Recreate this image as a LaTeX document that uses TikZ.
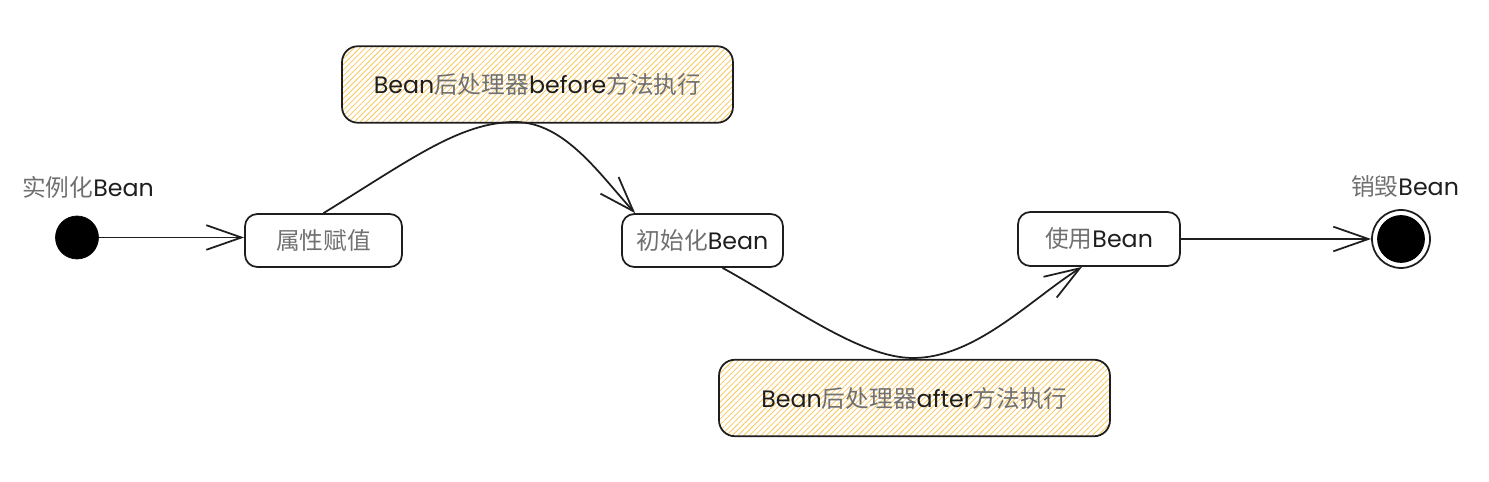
\documentclass[tikz,border=0pt]{standalone}
\usepackage{fontspec}
\setmainfont{Poppins}
\newfontfamily\cjk{Noto Sans CJK SC}
\usetikzlibrary{arrows.meta,patterns.meta}
\definecolor{zhgray}{HTML}{707070}
\definecolor{hatch}{HTML}{F7C75A}
\definecolor{ink}{HTML}{1E1E1E}
\newcommand{\zh}[1]{{\cjk\color{zhgray}#1}}
\begin{document}
\begin{tikzpicture}[x=0.02cm,y=-0.02cm,
  txt/.style={font=\fontsize{13.5}{16}\selectfont, text=ink},
  state/.style={txt, draw=ink, line width=1pt, rounded corners=7pt, minimum height=1.06cm, inner sep=0pt},
  note/.style={txt, draw=ink, line width=1pt, rounded corners=9pt, minimum width=7.82cm, minimum height=1.53cm,
    pattern={Lines[angle=45,distance=2.3pt,line width=0.45pt]}, pattern color=hatch},
  dot/.style={circle, fill=black, draw=black, inner sep=0pt},
  flow/.style={draw=ink, line width=1pt, -{Straight Barb[length=20pt,width=14pt,line width=1pt]}},
]
\useasboundingbox (0,0) rectangle (1489,482);
% states
\node[state, minimum width=3.14cm] (attr) at (323.5,240.5) {\zh{属性赋值}};
\node[state, minimum width=3.22cm] (init) at (702.5,240.5) {\zh{初始化}Bean};
\node[state, minimum width=3.24cm, minimum height=1.08cm] (use) at (1099,239) {\zh{使用}Bean};
% notes
\node[note] (before) at (537.5,84.5) {Bean\zh{后处理器}before\zh{方法执行}};
\node[note] (after) at (914.5,398) {Bean\zh{后处理器}after\zh{方法执行}};
% start / end
\node[dot, minimum size=0.86cm] (start) at (77,237.5) {};
\node[txt] (startlbl) at (88,187) {\zh{实例化}Bean};
\node[circle, draw=ink, line width=1pt, minimum size=1.16cm, inner sep=0pt] (end) at (1401,239) {};
\node[dot, minimum size=0.94cm] (endin) at (end.center) {};
\node[txt] (endlbl) at (1405,186) {\zh{销毁}Bean};
% connectors
\draw[flow] (start.east) -- (start.east -| attr.west);
\coordinate (peak1) at (515,122);
\coordinate (tip1) at ([xshift=0.28cm]init.north west);
\draw[flow] (attr.north) .. controls (410,160) and (460,122) .. (peak1)
  .. controls (565,122) and (600,175) .. (tip1);
\coordinate (low2) at (913,358);
\coordinate (tip2) at ([xshift=-0.34cm]use.south);
\draw[flow] ([xshift=0.4cm]init.south) .. controls (790,305) and (860,358) .. (low2)
  .. controls (975,358) and (1030,300) .. (tip2);
\draw[flow] (use.east) -- (use.east -| end.west);
\end{tikzpicture}
\end{document}
